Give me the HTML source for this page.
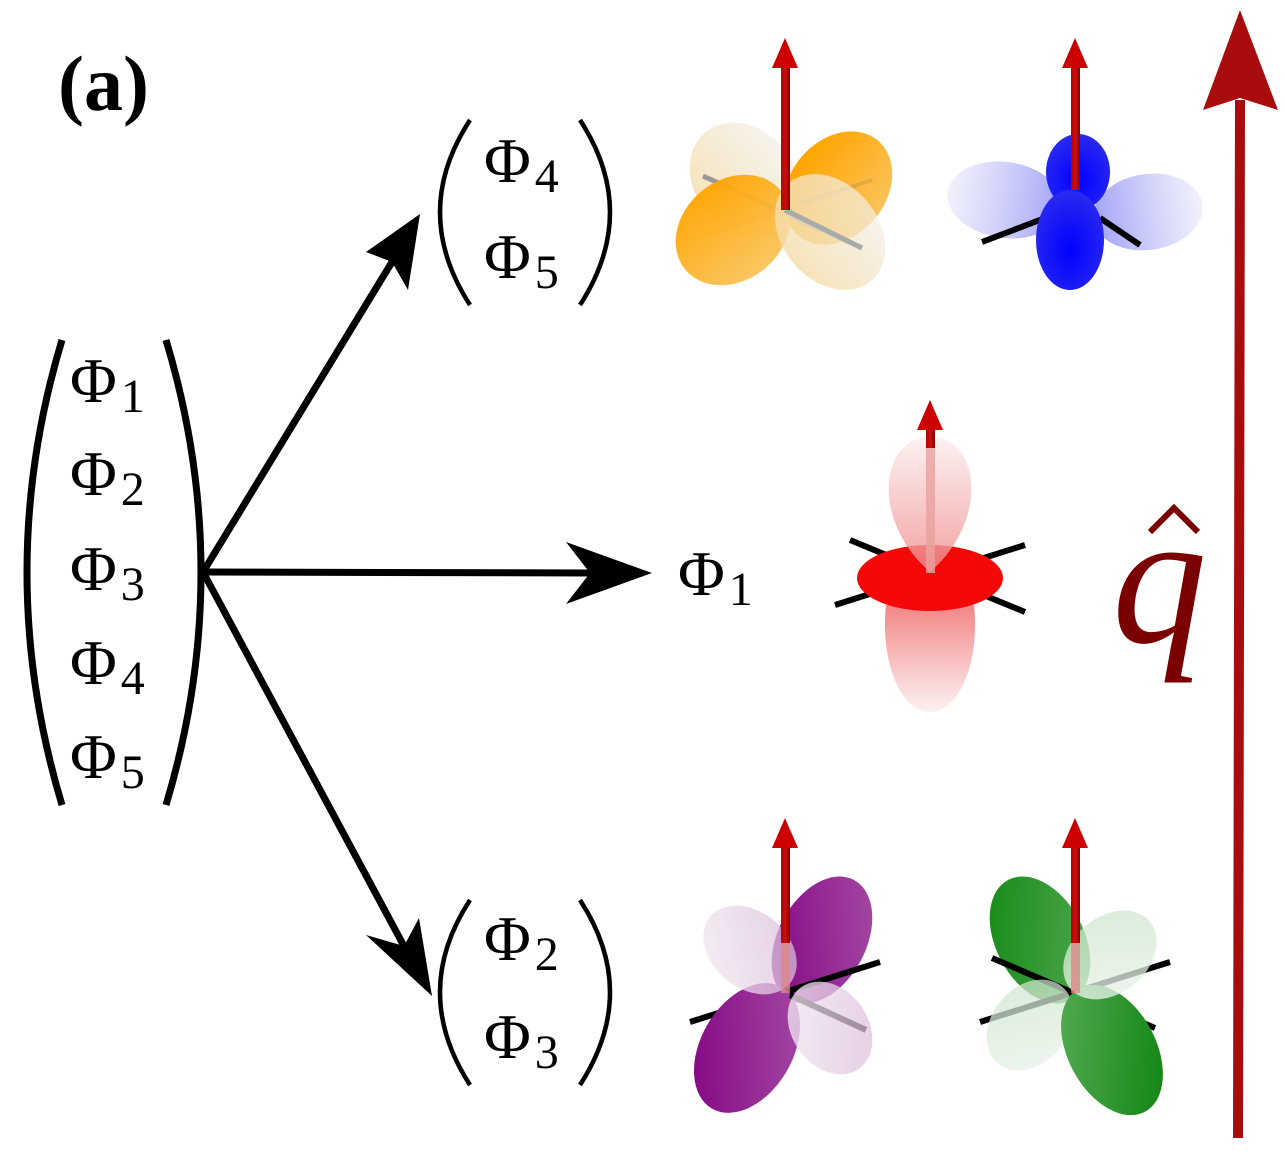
<!DOCTYPE html>
<html><head><meta charset="utf-8"><style>html,body{margin:0;padding:0;background:#fff}svg{display:block}</style></head><body>
<svg width="1284" height="1156" viewBox="0 0 1284 1156" xmlns="http://www.w3.org/2000/svg" font-family="Liberation Serif, serif">
<defs>
<linearGradient id="rod" x1="0" x2="1"><stop offset="0" stop-color="#b00"/><stop offset="0.5" stop-color="#c81010"/><stop offset="1" stop-color="#800"/></linearGradient>
<linearGradient id="og" x1="0" y1="0" x2="1" y2="0"><stop offset="0" stop-color="#ffa500"/><stop offset="1" stop-color="#fbc35a"/></linearGradient>
<linearGradient id="op" x1="0" y1="0" x2="1" y2="0"><stop offset="0" stop-color="#f4dca8" stop-opacity="0.8"/><stop offset="1" stop-color="#f2efe6" stop-opacity="0.7"/></linearGradient>
<linearGradient id="bpL" x1="0" x2="1"><stop offset="0" stop-color="#e8e8fa" stop-opacity="0.6"/><stop offset="1" stop-color="#8a8af5" stop-opacity="0.8"/></linearGradient>
<linearGradient id="bpR" x1="1" x2="0"><stop offset="0" stop-color="#e8e8fa" stop-opacity="0.6"/><stop offset="1" stop-color="#8a8af5" stop-opacity="0.8"/></linearGradient>
<radialGradient id="bs" cx="0.5" cy="0.6" r="0.6"><stop offset="0" stop-color="#0000ff"/><stop offset="1" stop-color="#2a2af0"/></radialGradient>
<linearGradient id="ru" x1="0" y1="0" x2="0" y2="1"><stop offset="0" stop-color="#fbeeee" stop-opacity="0.8"/><stop offset="1" stop-color="#f08a8a" stop-opacity="0.8"/></linearGradient>
<linearGradient id="rl" x1="0" y1="0" x2="0" y2="1"><stop offset="0" stop-color="#f07070" stop-opacity="0.85"/><stop offset="1" stop-color="#fbeeee" stop-opacity="0.8"/></linearGradient>
<linearGradient id="pg" x1="0" y1="1" x2="1" y2="0"><stop offset="0" stop-color="#800080"/><stop offset="1" stop-color="#a850a8"/></linearGradient>
<linearGradient id="pp" x1="0" y1="0" x2="1" y2="1"><stop offset="0" stop-color="#f4eef4" stop-opacity="0.8"/><stop offset="1" stop-color="#d8b8d8" stop-opacity="0.7"/></linearGradient>
<linearGradient id="gg" x1="0" y1="0" x2="1" y2="1"><stop offset="0" stop-color="#128812"/><stop offset="1" stop-color="#55aa55"/></linearGradient>
<linearGradient id="gg2" x1="0" y1="0" x2="1" y2="1"><stop offset="0" stop-color="#5aaf5a"/><stop offset="1" stop-color="#0a800a"/></linearGradient>
<linearGradient id="gp" x1="0" y1="0" x2="1" y2="1"><stop offset="0" stop-color="#c8e2c8" stop-opacity="0.7"/><stop offset="1" stop-color="#eef6ee" stop-opacity="0.8"/></linearGradient>
</defs>

<text x="58" y="110" font-size="78" font-weight="bold">(a)</text>

<!-- big column -->
<path d="M62 340 Q-8 572 62 805" fill="none" stroke="#000" stroke-width="7"/>
<path d="M166 340 Q236 572 166 805" fill="none" stroke="#000" stroke-width="7"/>
<g font-size="64">
<text x="70" y="402">Φ<tspan font-size="48" dx="4" dy="10">1</tspan></text>
<text x="70" y="495">Φ<tspan font-size="48" dx="4" dy="10">2</tspan></text>
<text x="70" y="590">Φ<tspan font-size="48" dx="4" dy="10">3</tspan></text>
<text x="70" y="684">Φ<tspan font-size="48" dx="4" dy="10">4</tspan></text>
<text x="70" y="778">Φ<tspan font-size="48" dx="4" dy="10">5</tspan></text>

<text x="484" y="182">Φ<tspan font-size="48" dx="4" dy="10">4</tspan></text>
<text x="484" y="278">Φ<tspan font-size="48" dx="4" dy="10">5</tspan></text>
<text x="678" y="595">Φ<tspan font-size="48" dx="4" dy="10">1</tspan></text>
<text x="484" y="960">Φ<tspan font-size="48" dx="4" dy="10">2</tspan></text>
<text x="484" y="1058">Φ<tspan font-size="48" dx="4" dy="10">3</tspan></text>
</g>
<path d="M470 120 Q410 212 470 305" fill="none" stroke="#000" stroke-width="4.5"/>
<path d="M580 120 Q640 212 580 305" fill="none" stroke="#000" stroke-width="4.5"/>
<path d="M470 900 Q410 992 470 1085" fill="none" stroke="#000" stroke-width="4.5"/>
<path d="M580 900 Q640 992 580 1085" fill="none" stroke="#000" stroke-width="4.5"/>

<!-- arrows -->
<g stroke="#000" stroke-width="7" fill="none">
<line x1="203" y1="572" x2="392" y2="262"/>
<line x1="203" y1="572" x2="590" y2="573"/>
<line x1="203" y1="572" x2="405" y2="948"/>
</g>
<path d="M420 214 L408 290 L392 262 L366 252 Z" fill="#000"/>
<path d="M652 573 L566 542 L590 573 L566 604 Z" fill="#000"/>
<path d="M432 996 L366 935 L404 946 L419 918 Z" fill="#000"/>

<!-- q hat -->
<text x="1112" y="642" font-size="190" font-style="italic" fill="#7a0000">q</text>
<polyline points="1150,532 1174,508 1198,532" fill="none" stroke="#7a0000" stroke-width="6"/>
<line x1="1238" y1="1138" x2="1240" y2="100" stroke="#a80c0c" stroke-width="10"/>
<path d="M1240 10 L1278 110 L1240 98 L1203 110 Z" fill="#a80c0c"/>

<!-- orange -->
<g>
<ellipse cx="745" cy="180" rx="50" ry="62" transform="rotate(-40 745 180)" fill="url(#op)"/>
<ellipse cx="838" cy="188" rx="48" ry="62" transform="rotate(40 838 188)" fill="url(#og)"/>
<line x1="703" y1="176" x2="862" y2="248" stroke="#999" stroke-width="5"/>
<line x1="705" y1="235" x2="872" y2="180" stroke="#c99a40" stroke-width="4" opacity="0.5"/>
<ellipse cx="733" cy="230" rx="50" ry="62" transform="rotate(50 733 230)" fill="url(#og)" opacity="0.95"/>
<ellipse cx="830" cy="232" rx="48" ry="64" transform="rotate(-40 830 232)" fill="url(#op)"/>
<line x1="785" y1="210" x2="862" y2="248" stroke="#aaa" stroke-width="5"/>
<rect x="781" y="68" width="9" height="142" fill="url(#rod)"/>
<path d="M785 38 L798 68 L772 68 Z" fill="#c00"/>
</g>

<!-- blue -->
<g>
<ellipse cx="1005" cy="200" rx="58" ry="38" transform="rotate(8 1005 200)" fill="url(#bpL)"/>
<ellipse cx="1148" cy="212" rx="55" ry="38" transform="rotate(-8 1148 212)" fill="url(#bpR)"/>
<ellipse cx="1078" cy="172" rx="32" ry="38" fill="url(#bs)"/>
<line x1="982" y1="242" x2="1045" y2="218" stroke="#000" stroke-width="6"/>
<line x1="1100" y1="218" x2="1140" y2="245" stroke="#000" stroke-width="6"/>
<ellipse cx="1070" cy="240" rx="34" ry="50" fill="url(#bs)"/>
<rect x="1071" y="68" width="9" height="122" fill="url(#rod)"/>
<path d="M1075 38 L1088 68 L1062 68 Z" fill="#c00"/>
</g>

<!-- red -->
<g>
<line x1="850" y1="540" x2="1025" y2="612" stroke="#000" stroke-width="6"/>
<line x1="835" y1="605" x2="1025" y2="545" stroke="#000" stroke-width="6"/>
<path d="M886 605 C880 660 900 712 930 712 C960 712 980 660 974 605 Z" fill="url(#rl)"/>
<ellipse cx="930" cy="578" rx="73" ry="33" fill="#f40808"/>
<path d="M930 437 C880 437 870 520 930 572 C990 520 980 437 930 437 Z" fill="url(#ru)"/>
<rect x="926" y="438" width="9" height="135" fill="#e9a0a0" opacity="0.8"/>
<rect x="926" y="428" width="9" height="20" fill="url(#rod)"/>
<path d="M930 400 L943 430 L917 430 Z" fill="#c00"/>
</g>

<!-- purple -->
<g>
<ellipse cx="822" cy="940" rx="44" ry="68" transform="rotate(28 822 940)" fill="url(#pg)"/>
<line x1="690" y1="1022" x2="880" y2="962" stroke="#000" stroke-width="6"/>
<ellipse cx="747" cy="1048" rx="46" ry="70" transform="rotate(30 747 1048)" fill="url(#pg)"/>
<line x1="790" y1="995" x2="866" y2="1030" stroke="#000" stroke-width="6"/>
<ellipse cx="830" cy="1028" rx="38" ry="50" transform="rotate(-35 830 1028)" fill="url(#pp)"/>
<ellipse cx="750" cy="950" rx="38" ry="52" transform="rotate(-50 750 950)" fill="url(#pp)"/>
<rect x="781" y="848" width="9" height="95" fill="url(#rod)"/>
<rect x="781" y="943" width="9" height="50" fill="#d88" opacity="0.8"/>
<path d="M785 818 L798 848 L772 848 Z" fill="#c00"/>
</g>

<!-- green -->
<g>
<ellipse cx="1040" cy="940" rx="44" ry="68" transform="rotate(-28 1040 940)" fill="url(#gg)"/>
<line x1="992" y1="958" x2="1155" y2="1028" stroke="#000" stroke-width="6"/>
<line x1="980" y1="1022" x2="1170" y2="962" stroke="#000" stroke-width="6"/>
<ellipse cx="1030" cy="1025" rx="38" ry="50" transform="rotate(40 1030 1025)" fill="url(#gp)"/>
<ellipse cx="1112" cy="1050" rx="44" ry="70" transform="rotate(-28 1112 1050)" fill="url(#gg2)"/>
<ellipse cx="1110" cy="955" rx="38" ry="52" transform="rotate(50 1110 955)" fill="url(#gp)"/>
<rect x="1071" y="848" width="9" height="95" fill="url(#rod)"/>
<rect x="1071" y="943" width="9" height="50" fill="#d88" opacity="0.8"/>
<path d="M1075 818 L1088 848 L1062 848 Z" fill="#c00"/>
</g>
</svg>
</body></html>
